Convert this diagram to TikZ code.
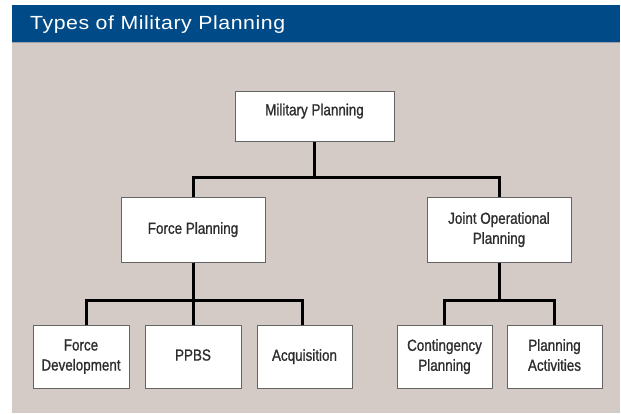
\documentclass[tikz,border=0pt]{standalone}
\usepackage{fontspec}
\newfontfamily\boxfont{Liberation Sans}[FakeStretch=0.84,FakeBold=1]
\newfontfamily\headfont{Liberation Sans}[FakeStretch=1.12,LetterSpace=3]

\definecolor{headblue}{RGB}{0,75,135}
\definecolor{panelbg}{RGB}{213,203,198}
\definecolor{rulegray}{RGB}{160,160,168}
\definecolor{boxline}{RGB}{100,100,100}
\definecolor{boxtext}{RGB}{45,45,45}

\tikzset{
    plan/.style={draw=boxline, line width=1pt, fill=white, inner sep=0pt,
        align=center, text=boxtext, text depth=4pt,
        font=\boxfont\fontsize{16}{20}\selectfont},
    link/.style={line width=3pt, black}
}

\begin{document}
\begin{tikzpicture}[x=1pt, y=-1pt]
    \useasboundingbox (0,0) rectangle (621,414);
    \fill[white] (0,0) rectangle (621,414);

    % panel and title bar
    \fill[headblue] (12,5) rectangle (620,42);
    \fill[rulegray] (12,42) rectangle (620,43.5);
    \fill[panelbg] (12,43.5) rectangle (620,413);
    \node[anchor=base west, inner sep=0pt, text=white,
        font=\headfont\fontsize{19}{22}\selectfont] (title) at (30,30) {Types of Military Planning};

    % boxes
    \node[plan, text depth=15pt, minimum width=159pt, minimum height=50pt] (mp) at (314.5,117) {Military Planning};
    \node[plan, minimum width=144pt, minimum height=64pt] (fp) at (193,230) {Force Planning};
    \node[plan, minimum width=144pt, minimum height=64pt] (jop) at (499,230) {Joint Operational\\Planning};

    \node[plan, minimum width=96pt, minimum height=63pt] (fd) at (81,357) {Force\\Development};
    \node[plan, minimum width=96pt, minimum height=63pt] (ppbs) at (193,357) {PPBS};
    \node[plan, minimum width=95pt, minimum height=63pt] (acq) at (304.5,357) {Acquisition};
    \node[plan, minimum width=95pt, minimum height=63pt] (cp) at (444.5,357) {Contingency\\Planning};
    \node[plan, minimum width=95pt, minimum height=63pt] (pa) at (554.5,357) {Planning\\Activities};

    % tree lines
    \draw[link] (mp.south) -- ++(0,35) coordinate (topbar);
    \draw[link] (fp.north) |- (topbar) -| (jop.north);

    \draw[link] (fp.south) -- (ppbs.north);
    \path (fp.south) ++(0,38) coordinate (lowbar);
    \draw[link] ([xshift=5pt]fd.north) |- (lowbar) -| ([xshift=-2pt]acq.north);

    \draw[link] (jop.south) -- ++(0,38) coordinate (rightbar);
    \draw[link] (cp.north) |- (rightbar) -| (pa.north);
\end{tikzpicture}
\end{document}
